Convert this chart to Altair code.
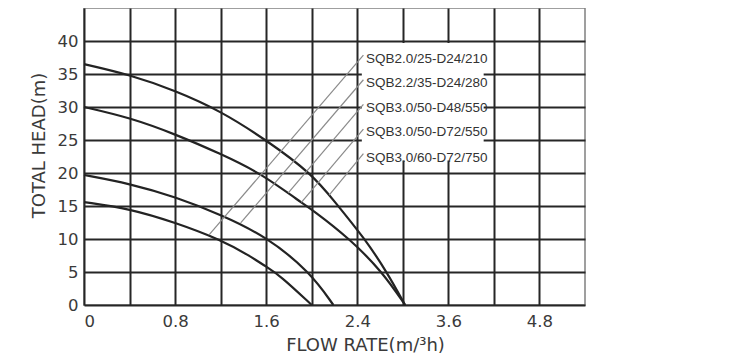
import json
import altair as alt
import pandas as pd

# ---- data ----
flow_a = [0, 0.4, 0.8, 1.2, 1.6, 2.0, 2.2, 2.47, 2.66, 2.82]
head_a = [36.5, 34.9, 32.5, 29.4, 25.0, 19.9, 15.7, 9.95, 5.0, 0]
flow_b = [0, 0.4, 0.8, 1.2, 1.56, 1.9, 2.0, 2.34, 2.62, 2.82]
head_b = [30.0, 28.4, 25.9, 22.9, 19.9, 15.6, 14.5, 9.95, 5.0, 0]
flow_c = [0, 0.4, 0.8, 1.2, 1.6, 1.985, 2.19]
head_c = [19.7, 18.4, 16.4, 13.7, 10.4, 5.0, 0]
flow_d = [0, 0.4, 0.8, 1.2, 1.46, 1.6, 1.72, 2.0]
head_d = [15.6, 14.6, 12.5, 9.9, 7.4, 5.8, 4.5, 0]

model_labels = ["SQB2.0/25-D24/210", "SQB2.2/35-D24/280", "SQB3.0/50-D48/550",
                "SQB3.0/50-D72/550", "SQB3.0/60-D72/750"]
label_flow = [2.476] * 5
label_head = [37.27, 33.6, 29.9, 26.2, 22.3]

lead_flow_lo = [1.098, 1.376, 1.794, 1.909, 2.153]
lead_head_lo = [10.61, 12.45, 17.0, 15.55, 16.65]
lead_flow_hi = [2.454] * 5
lead_head_hi = [37.87, 34.13, 30.39, 26.65, 22.92]

box_flow = [2.44]
box_flow2 = [3.51]
box_head = [21.9]
box_head2 = [39.7]

x_grid = [0, 0.4, 0.8, 1.2, 1.6, 2.0, 2.4, 2.8, 3.2, 3.6, 4.0]
x_tick_values = [0, 0.8, 1.6, 2.4, 3.2, 4.0]
x_tick_labels = ["0", "0.8", "1.6", "2.4", "3.6", "4.8"]
y_grid = [0, 5, 10, 15, 20, 25, 30, 35, 40]

# ---- tables ----
curves = pd.concat([
    pd.DataFrame({"flow": f, "head": h, "curve": name})
    for f, h, name in [(flow_a, head_a, "A"), (flow_b, head_b, "B"),
                       (flow_c, head_c, "C"), (flow_d, head_d, "D")]
])
labels_df = pd.DataFrame({"flow": label_flow, "head": label_head, "text": model_labels})
leads_df = pd.DataFrame({"flow": lead_flow_lo, "head": lead_head_lo,
                         "flow2": lead_flow_hi, "head2": lead_head_hi})
box_df = pd.DataFrame({"flow": box_flow, "flow2": box_flow2, "head": box_head, "head2": box_head2})

FONT = "DejaVu Sans"
TXT = "#3a3a3a"
GRID = "#262626"

label_expr = "''"
for v, lab in reversed(list(zip(x_tick_values, x_tick_labels))):
    label_expr = f"(abs(datum.value - {v}) < 0.001 ? {json.dumps(lab)} : {label_expr})"

xscale = alt.Scale(domain=[0, 4.4], nice=False, zero=False)
yscale = alt.Scale(domain=[0, 45], nice=False, zero=False)

xaxis = alt.Axis(values=x_grid, labelExpr=label_expr, grid=True, gridColor=GRID,
                 gridWidth=2, gridOpacity=1, ticks=False, domain=False,
                 labelFont=FONT, labelFontSize=16.5, labelColor=TXT, labelPadding=8,
                 labelFlush=True,
                 title="FLOW RATE(m/³h)", titleFont=FONT, titleFontSize=18,
                 titleFontWeight="normal", titleColor=TXT,
                 titleX=281, titleY=40, titleAlign="center", titleBaseline="middle")
yaxis = alt.Axis(values=y_grid, format="d", grid=True, gridColor=GRID,
                 gridWidth=2, gridOpacity=1, ticks=False, domain=False,
                 labelFont=FONT, labelFontSize=16.5, labelColor=TXT, labelPadding=6,
                 title="TOTAL HEAD(m)", titleFont=FONT, titleFontSize=18,
                 titleFontWeight="normal", titleColor=TXT, titleAngle=270,
                 titleX=-45, titleY=137, titleAlign="center", titleBaseline="middle")

X = lambda f: alt.X(f"{f}:Q", scale=xscale, axis=xaxis)
Y = lambda f: alt.Y(f"{f}:Q", scale=yscale, axis=yaxis)

box = alt.Chart(box_df).mark_rect(color="white", opacity=1).encode(
    x=X("flow"), x2="flow2", y=Y("head"), y2="head2")

lines = alt.Chart(curves).mark_line(color="#232323", strokeWidth=2.2,
                                    interpolate="basis").encode(
    x=X("flow"), y=Y("head"), detail="curve:N")

leads = alt.Chart(leads_df).mark_rule(color="#8a8a8a", strokeWidth=1.2).encode(
    x=X("flow"), y=Y("head"), x2="flow2", y2="head2")

texts = alt.Chart(labels_df).mark_text(align="left", baseline="middle",
                                       font="Liberation Sans", fontSize=13.5,
                                       color="#333333").encode(
    x=X("flow"), y=Y("head"), text="text:N")

chart = alt.layer(box, lines, leads, texts).properties(
    width=501, height=297,
    autosize=alt.AutoSizeParams(type="none"),
    padding={"left": 76, "top": 0, "right": 151, "bottom": 53},
).configure_view(stroke="#808080", strokeWidth=1.5)

chart.save("out.html", embed_options={"renderer": "svg", "actions": False})
